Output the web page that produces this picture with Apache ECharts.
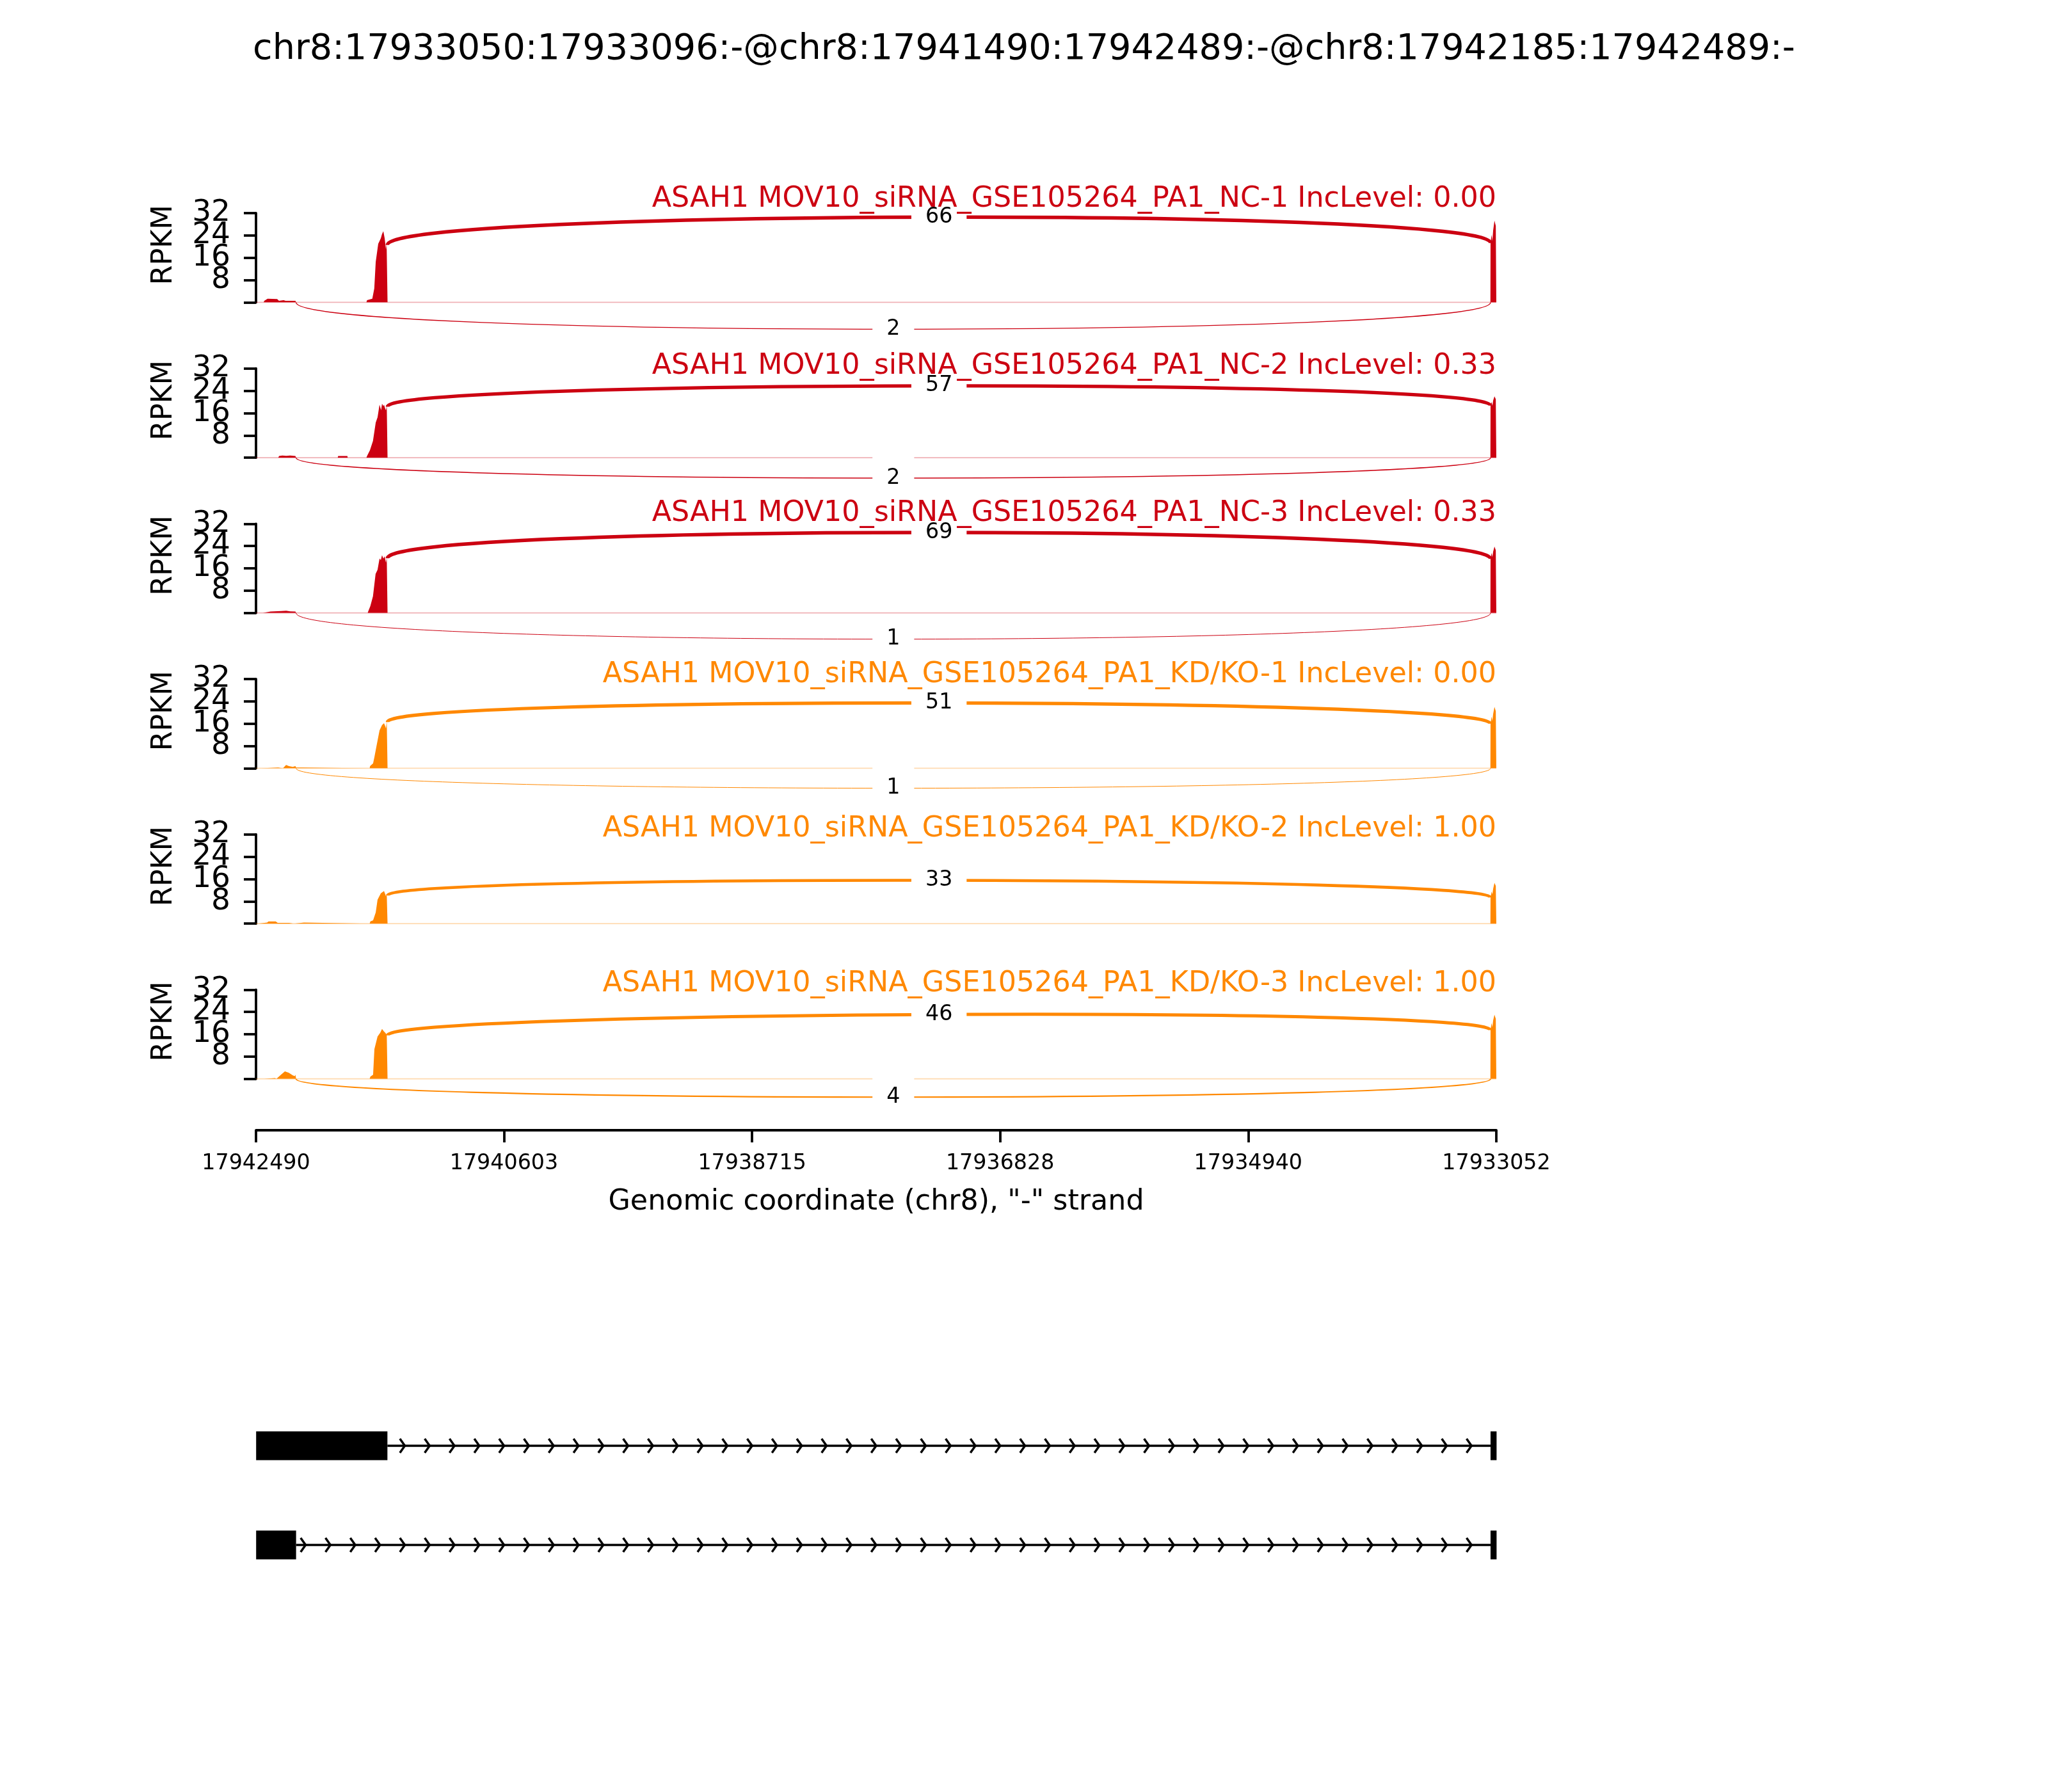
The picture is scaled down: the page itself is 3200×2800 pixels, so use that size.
<!DOCTYPE html>
<html><head><meta charset="utf-8">
<script src="https://cdn.jsdelivr.net/npm/echarts@6/dist/echarts.min.js"></script>
<style>html,body{margin:0;padding:0;background:#fff}#c{width:3200px;height:2800px}</style>
</head><body><div id="c"></div>
<script>
// ---------------- data ----------------
const chartTitle = 'chr8:17933050:17933096:-@chr8:17941490:17942489:-@chr8:17942185:17942489:-';
const sampleNames = [
  'ASAH1 MOV10_siRNA_GSE105264_PA1_NC-1',
  'ASAH1 MOV10_siRNA_GSE105264_PA1_NC-2',
  'ASAH1 MOV10_siRNA_GSE105264_PA1_NC-3',
  'ASAH1 MOV10_siRNA_GSE105264_PA1_KD/KO-1',
  'ASAH1 MOV10_siRNA_GSE105264_PA1_KD/KO-2',
  'ASAH1 MOV10_siRNA_GSE105264_PA1_KD/KO-3'
];
const incLevels = ['0.00', '0.33', '0.33', '0.00', '1.00', '1.00'];
const sampleColors = ['#CC0011', '#CC0011', '#CC0011', '#FF8800', '#FF8800', '#FF8800'];
const xRange = [17933052, 17942490];
const xTicks = [17942490, 17940603, 17938715, 17936828, 17934940, 17933052];
const yRange = [0, 32];
const yTickStep = 8;
const yTickLabels = [8, 16, 24, 32];
const xAxisName = 'Genomic coordinate (chr8), "-" strand';

// coverage (genomic coordinate, RPKM)
const cov1 = [[17942490,0],[17942432,0],[17942427,0.6],[17942402,1.3],[17942329,1.2],[17942315,0.6],[17942280,0.8],[17942265,0.6],[17942190,0.6],[17942185,0],
  [17941650,0],[17941645,0.8],[17941605,1.3],[17941590,5],[17941579,14.5],[17941560,21],[17941540,23],[17941531,24.5],[17941521,25.5],[17941511,23],[17941501,19],[17941496,21],[17941490,20.6],[17941489,0],
  [17933097,0],[17933096,21.3],[17933088,24.2],[17933082,22],[17933076,25.8],[17933066,29.3],[17933056,27.4],[17933052,27.4]];
const cov2 = [[17942490,0],[17942320,0],[17942315,0.6],[17942290,0.8],[17942260,0.7],[17942230,0.8],[17942190,0.6],[17942185,0],
  [17941868,0],[17941865,0.6],[17941795,0.6],[17941792,0],
  [17941650,0],[17941645,0.6],[17941623,2.7],[17941600,6],[17941579,12.6],[17941565,14.5],[17941550,19],[17941538,17],[17941531,19.4],[17941521,18.5],[17941516,19],[17941506,17.5],[17941501,17],[17941495,18.6],[17941490,18.3],[17941489,0],
  [17933097,0],[17933096,18.7],[17933088,20],[17933082,18.5],[17933076,20.5],[17933066,22],[17933056,21],[17933052,21]];
const cov3 = [[17942490,0],[17942437,0],[17942435,0.4],[17942380,0.5],[17942300,0.7],[17942260,0.8],[17942230,0.6],[17942190,0.5],[17942185,0],
  [17941640,0],[17941636,0.6],[17941620,2.5],[17941600,6],[17941580,14],[17941565,15.5],[17941550,19.5],[17941540,19],[17941531,20.7],[17941521,19.5],[17941511,20.3],[17941501,18],[17941495,19.8],[17941490,19.6],[17941489,0],
  [17933097,0],[17933096,19.4],[17933088,21.5],[17933082,20],[17933076,22],[17933066,23.8],[17933056,22.5],[17933052,22.5]];
const cov4 = [[17942490,0],[17942451,0],[17942449,0.3],[17942321,0.3],[17942319,0],[17942285,0],[17942283,0.3],[17942275,0.5],[17942261,1.2],[17942240,0.8],[17942210,0.5],[17942190,0.8],[17942185,0.3],[17942140,0.3],[17942138,0],
  [17941625,0],[17941622,0.8],[17941599,1.75],[17941589,4],[17941575,7.5],[17941550,13.6],[17941531,15.5],[17941516,16.2],[17941506,15],[17941501,14.3],[17941495,16.8],[17941490,16.6],[17941489,0],
  [17933097,0],[17933096,16],[17933088,18.5],[17933082,17],[17933076,19.5],[17933066,22],[17933056,20.5],[17933052,20.5]];
const cov5 = [[17942490,0],[17942476,0],[17942474,0.3],[17942405,0.4],[17942395,0.8],[17942340,0.8],[17942325,0.3],[17942238,0.3],[17942236,0],[17942203,0],[17942201,0.4],[17942125,0.4],[17942123,0],
  [17941625,0],[17941620,0.8],[17941599,1.2],[17941579,4],[17941565,8.6],[17941540,10.9],[17941531,11],[17941516,11.7],[17941506,10.5],[17941501,9.8],[17941495,10.4],[17941490,10.1],[17941489,0],
  [17933097,0],[17933096,9.4],[17933088,11.5],[17933082,10.5],[17933076,12.5],[17933066,14.6],[17933056,13.5],[17933052,13.5]];
const cov6 = [[17942490,0],[17942427,0],[17942425,0.3],[17942345,0.3],[17942343,0],[17942335,0],[17942333,0.4],[17942300,1.5],[17942270,2.7],[17942240,2.2],[17942210,1.3],[17942195,1.0],[17942190,1.5],[17942185,0],
  [17941625,0],[17941620,0.8],[17941599,1.5],[17941589,10.7],[17941565,15.2],[17941545,16.5],[17941531,17.9],[17941516,17],[17941506,16.5],[17941495,15.8],[17941490,15.6],[17941489,0],
  [17933097,0],[17933096,17.5],[17933088,20],[17933082,18.5],[17933076,21],[17933066,23],[17933056,21.5],[17933052,21.5]];
const coverages = [cov1, cov2, cov3, cov4, cov5, cov6];

// junctions
const longJunction = [17941490, 17933096];   // drawn above
const shortJunction = [17942185, 17933096];  // drawn below
const longJunctionCounts = [66, 57, 69, 51, 33, 46];
const shortJunctionCounts = [2, 2, 1, 1, 0, 4];
const arcHeights = [12.8, 9.7, 12.5, 9.5, 7.7, 8.7];

// gene model
const transcript1Exons = [[17941490, 17942489], [17933050, 17933096]];
const transcript2Exons = [[17942185, 17942489], [17933050, 17933096]];
const transcripts = [transcript1Exons, transcript2Exons];

// ---------------- layout / style ----------------
const FONT = 'DejaVu Sans';
const GL = 400, GR = 862;
const panelTops = [333, 575.7, 818.3, 1061, 1303.7, 1546.3];
const panelH = 139.5;
const titleCenters = [311, 572, 802, 1054, 1295, 1537];
const maxCount = 69;

function hexA(hex, a) {
  const n = parseInt(hex.slice(1), 16);
  return 'rgba(' + (n >> 16 & 255) + ',' + (n >> 8 & 255) + ',' + (n & 255) + ',' + a + ')';
}
function covAt(cov, x) {
  for (const p of cov) if (p[0] === x) return p[1];
  return 0;
}

const chart = echarts.init(document.getElementById('c'), null, {renderer: 'canvas', width: 3200, height: 2800});

const grids = [], xAxes = [], yAxes = [], series = [];
const titles = [{
  text: chartTitle, left: 'center', top: 50, padding: 0,
  textStyle: {fontFamily: FONT, fontSize: 55.6, fontWeight: 'normal', color: '#000', lineHeight: 56}
}];

coverages.forEach((cov, i) => {
  const color = sampleColors[i];
  grids.push({left: GL, right: GR, top: panelTops[i], height: panelH, outerBoundsMode: 'none', containLabel: false});
  xAxes.push({gridIndex: i, type: 'value', min: xRange[0], max: xRange[1], inverse: true, show: false});
  yAxes.push({
    gridIndex: i, type: 'value', min: yRange[0], max: yRange[1], interval: yTickStep,
    axisLine: {show: true, lineStyle: {color: '#000', width: 3.8}},
    axisTick: {show: true, length: 19, lineStyle: {color: '#000', width: 3.8}},
    axisLabel: {show: false},
    splitLine: {show: false},
    name: 'RPKM', nameLocation: 'middle', nameGap: 122, nameRotate: 90,
    nameTextStyle: {fontFamily: FONT, fontSize: 44.4, color: '#000', padding: [0, 0, 0, 40]}
  });
  titles.push({
    text: sampleNames[i] + ' IncLevel: ' + incLevels[i],
    right: GR, top: titleCenters[i] - 22, padding: 0,
    textStyle: {fontFamily: FONT, fontSize: 44.4, fontWeight: 'normal', color: color, lineHeight: 44}
  });
  // y tick labels (drawn through the axis scale so overlapping labels are all kept)
  series.push({
    type: 'custom', xAxisIndex: i, yAxisIndex: i, silent: true, clip: false, z: 5,
    encode: {y: 0}, data: yTickLabels.map(v => [v]),
    renderItem: (p, api) => {
      const c = api.coord([xRange[1], api.value(0)]);
      return {type: 'text', x: c[0] - 40, y: c[1], style: {text: String(api.value(0)), fontFamily: FONT, fontSize: 47,
        fill: '#000', align: 'right', verticalAlign: 'middle'}};
    }
  });
  // faint baseline
  series.push({
    type: 'line', xAxisIndex: i, yAxisIndex: i, silent: true, symbol: 'none', z: 1,
    data: [[xRange[1], 0], [xRange[0], 0]],
    lineStyle: {color: hexA(color, 0.3), width: 2}
  });
  // coverage
  series.push({
    type: 'line', xAxisIndex: i, yAxisIndex: i, silent: true, symbol: 'none', z: 2,
    data: cov, lineStyle: {width: 0, opacity: 0}, areaStyle: {color: color, opacity: 1}
  });
  // junction arcs
  const jdata = [];
  const h = arcHeights[i];
  if (longJunctionCounts[i] > 0)
    jdata.push([longJunction[0], longJunction[1], longJunctionCounts[i], covAt(cov, longJunction[0]), covAt(cov, longJunction[1]), h, 0]);
  if (shortJunctionCounts[i] > 0)
    jdata.push([shortJunction[0], shortJunction[1], shortJunctionCounts[i], 0, 0, h, 1]);
  series.push({
    type: 'custom', xAxisIndex: i, yAxisIndex: i, silent: true, clip: false, z: 3,
    encode: {x: 0, y: 3},
    data: jdata,
    renderItem: function (params, api) {
      const s = api.value(0), e = api.value(1), c = api.value(2), y1 = api.value(3), y2 = api.value(4), hh = api.value(5), below = api.value(6);
      const sg = below ? -1 : 1;
      const p0 = api.coord([s, y1]), p1 = api.coord([s, y1 + sg * hh]), p2 = api.coord([e, y2 + sg * hh]), p3 = api.coord([e, y2]);
      const mx = (p0[0] + 3 * p1[0] + 3 * p2[0] + p3[0]) / 8;
      const my = (p0[1] + 3 * p1[1] + 3 * p2[1] + p3[1]) / 8;
      const lw = 5.56 * Math.log(c + 1) / Math.log(maxCount + 1);
      return {type: 'group', children: [
        {type: 'bezierCurve', shape: {x1: p0[0], y1: p0[1], cpx1: p1[0], cpy1: p1[1], cpx2: p2[0], cpy2: p2[1], x2: p3[0], y2: p3[1]},
         style: {stroke: color, lineWidth: Math.max(lw, 1), fill: 'none'}},
        {type: 'text', x: mx, y: my, z2: 10, style: {text: String(c), fontFamily: FONT, fontSize: 33.3, fill: '#000',
          align: 'center', verticalAlign: 'middle', lineHeight: 36, backgroundColor: '#fff', padding: [18, 22, 18, 22]}}
      ]};
    }
  });
});

// bottom genomic axis
const axG = coverages.length;
grids.push({left: GL, right: GR, top: 1700, height: 66, outerBoundsMode: 'none', containLabel: false});
xAxes.push({
  gridIndex: axG, type: 'value', min: xRange[0], max: xRange[1], inverse: true, position: 'bottom',
  axisLine: {show: true, lineStyle: {color: '#000', width: 3.8}},
  axisTick: {show: true, length: 19, lineStyle: {color: '#000', width: 3.8}, customValues: xTicks},
  axisLabel: {show: true, margin: 36, fontFamily: FONT, fontSize: 33.3, color: '#000', customValues: xTicks, hideOverlap: false, formatter: v => String(v)},
  splitLine: {show: false},
  name: xAxisName, nameLocation: 'middle', nameGap: 90,
  nameTextStyle: {fontFamily: FONT, fontSize: 44.4, color: '#000'}
});
yAxes.push({gridIndex: axG, type: 'value', min: 0, max: 1, show: false});

// gene model
const gmG = axG + 1;
grids.push({left: GL, right: GR, top: 2104, height: 465, outerBoundsMode: 'none', containLabel: false});
xAxes.push({gridIndex: gmG, type: 'value', min: xRange[0], max: xRange[1], inverse: true, show: false});
yAxes.push({gridIndex: gmG, type: 'value', min: 0, max: 3, inverse: true, show: false});

const exonData = [], intronData = [], arrowData = [];
const nArrows = 50, step = (xRange[1] - xRange[0]) / nArrows, spreadBp = 0.2 * step;
transcripts.forEach((exs, t) => {
  const row = t + 1;
  exs.forEach(e => exonData.push([row, e[0], e[1]]));
  const sorted = exs.slice().sort((a, b) => b[0] - a[0]);
  for (let k = 0; k < sorted.length - 1; k++) {
    const hi = sorted[k][0], lo = sorted[k + 1][1];
    intronData.push([row, hi, lo]);
    for (let i = 0; i < nArrows; i++) {
      const loc = xRange[1] - i * step;
      if (loc + spreadBp < hi && loc > lo) arrowData.push([row, loc]);
    }
  }
});

series.push({
  type: 'custom', xAxisIndex: gmG, yAxisIndex: gmG, silent: true, clip: false, z: 2,
  encode: {x: 1, y: 0}, data: intronData,
  renderItem: (p, api) => {
    const a = api.coord([api.value(1), api.value(0)]), b = api.coord([api.value(2), api.value(0)]);
    return {type: 'line', shape: {x1: a[0], y1: a[1], x2: b[0], y2: b[1]}, style: {stroke: '#000', lineWidth: 3.5}};
  }
});
series.push({
  type: 'custom', xAxisIndex: gmG, yAxisIndex: gmG, silent: true, clip: false, z: 3,
  encode: {x: 1, y: 0}, data: arrowData,
  renderItem: (p, api) => {
    const c = api.coord([api.value(1), api.value(0)]);
    return {type: 'polyline', shape: {points: [[c[0] - 7.75, c[1] - 11], [c[0], c[1]], [c[0] - 7.75, c[1] + 11]]},
      style: {stroke: '#000', lineWidth: 3.5, fill: 'none'}};
  }
});
series.push({
  type: 'custom', xAxisIndex: gmG, yAxisIndex: gmG, silent: true, clip: false, z: 4,
  encode: {x: 1, y: 0}, data: exonData,
  renderItem: (p, api) => {
    const a = api.coord([api.value(1), api.value(0)]), b = api.coord([api.value(2), api.value(0)]);
    const x = Math.min(a[0], b[0]), w = Math.abs(a[0] - b[0]);
    return {type: 'rect', shape: {x: x, y: a[1] - 22.5, width: Math.max(w, 1), height: 45}, style: {fill: '#000'}};
  }
});

chart.setOption({
  backgroundColor: '#fff',
  animation: false,
  title: titles,
  grid: grids,
  xAxis: xAxes,
  yAxis: yAxes,
  series: series
});
</script></body></html>
